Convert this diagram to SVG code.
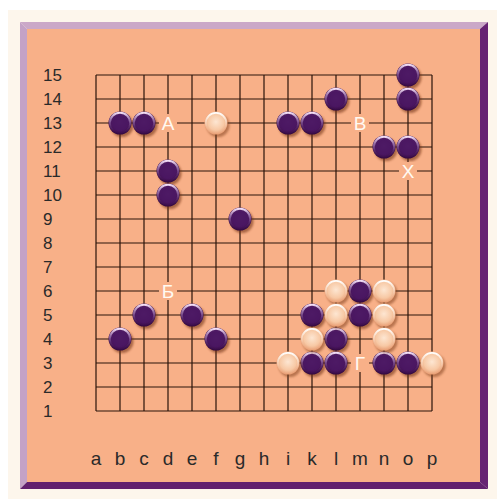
<svg xmlns="http://www.w3.org/2000/svg" xmlns:xlink="http://www.w3.org/1999/xlink" width="497" height="499" viewBox="0 0 497 499">
<style>
.grid line{stroke:#2b140a;stroke-width:1.2}
.rowlab{font-family:"Liberation Sans",Arial,sans-serif;font-size:17px;fill:#2a2a2a}
.collab{font-family:"Liberation Sans",Arial,sans-serif;font-size:19px;fill:#2a2a2a;text-anchor:middle}
.mark{font-family:"Liberation Sans",Arial,sans-serif;font-size:19px;fill:#fffaf2;text-anchor:middle}
</style>
<defs>
<filter id="blur" x="-50%" y="-50%" width="200%" height="200%"><feGaussianBlur stdDeviation="1.3"/></filter>
<radialGradient id="bg" cx="50%" cy="45%" r="55%"><stop offset="0" stop-color="#5e2a74"/><stop offset="0.7" stop-color="#4a1660"/><stop offset="1" stop-color="#33083f"/></radialGradient>
<linearGradient id="brim" x1="0" y1="0" x2="0" y2="1"><stop offset="0" stop-color="#f2def5"/><stop offset="0.45" stop-color="#a87fb8" stop-opacity="0.6"/><stop offset="1" stop-color="#5a2670" stop-opacity="0"/></linearGradient>
<radialGradient id="wg" cx="50%" cy="45%" r="55%"><stop offset="0" stop-color="#fde6d2"/><stop offset="0.65" stop-color="#f7c8a4"/><stop offset="1" stop-color="#e89c72"/></radialGradient>
<linearGradient id="wrim" x1="0" y1="0" x2="0" y2="1"><stop offset="0" stop-color="#ffffff"/><stop offset="0.5" stop-color="#fff2e6" stop-opacity="0.4"/><stop offset="1" stop-color="#f0b08a" stop-opacity="0"/></linearGradient>
<g id="bs">
<circle cx="2" cy="2.5" r="11.5" fill="#6a2a10" opacity="0.55" filter="url(#blur)"/>
<circle r="11.5" fill="url(#bg)"/>
<circle r="10.2" fill="none" stroke="url(#brim)" stroke-width="1.9"/>
<circle r="7.6" fill="#4a1662" opacity="0.8"/>
</g>
<g id="ws">
<circle cx="2" cy="2.5" r="11.5" fill="#7a3a18" opacity="0.5" filter="url(#blur)"/>
<circle r="11.5" fill="url(#wg)"/>
<circle r="10.2" fill="none" stroke="url(#wrim)" stroke-width="1.8"/>
</g>
</defs>
<rect width="497" height="499" fill="#ffffff"/>
<rect x="8" y="10" width="489" height="489" fill="#fdf6ec"/>
<g id="frame">
<polygon points="20,22 488,22 480,29 27,29" fill="#cba8c8"/>
<polygon points="20,22 27,29 27,482 20,489" fill="#c4a2c6"/>
<polygon points="488,22 488,489 480,482 480,29" fill="#672373"/>
<polygon points="20,489 488,489 480,482 27,482" fill="#62206e"/>
<rect x="27" y="29" width="453" height="453" fill="#f8b088"/>
</g>
<g class="grid" id="grid">
<line x1="96" y1="75" x2="432" y2="75"/><line x1="96" y1="99" x2="432" y2="99"/><line x1="96" y1="123" x2="432" y2="123"/><line x1="96" y1="147" x2="432" y2="147"/><line x1="96" y1="171" x2="432" y2="171"/><line x1="96" y1="195" x2="432" y2="195"/><line x1="96" y1="219" x2="432" y2="219"/><line x1="96" y1="243" x2="432" y2="243"/><line x1="96" y1="267" x2="432" y2="267"/><line x1="96" y1="291" x2="432" y2="291"/><line x1="96" y1="315" x2="432" y2="315"/><line x1="96" y1="339" x2="432" y2="339"/><line x1="96" y1="363" x2="432" y2="363"/><line x1="96" y1="387" x2="432" y2="387"/><line x1="96" y1="411" x2="432" y2="411"/>
<line x1="96" y1="75" x2="96" y2="411"/><line x1="120" y1="75" x2="120" y2="411"/><line x1="144" y1="75" x2="144" y2="411"/><line x1="168" y1="75" x2="168" y2="411"/><line x1="192" y1="75" x2="192" y2="411"/><line x1="216" y1="75" x2="216" y2="411"/><line x1="240" y1="75" x2="240" y2="411"/><line x1="264" y1="75" x2="264" y2="411"/><line x1="288" y1="75" x2="288" y2="411"/><line x1="312" y1="75" x2="312" y2="411"/><line x1="336" y1="75" x2="336" y2="411"/><line x1="360" y1="75" x2="360" y2="411"/><line x1="384" y1="75" x2="384" y2="411"/><line x1="408" y1="75" x2="408" y2="411"/><line x1="432" y1="75" x2="432" y2="411"/>
</g>
<g id="row-labels" class="rowlab">
<text x="43" y="81">15</text><text x="43" y="105">14</text><text x="43" y="129">13</text><text x="43" y="153">12</text><text x="43" y="177">11</text><text x="43" y="201">10</text><text x="43" y="225">9</text><text x="43" y="249">8</text><text x="43" y="273">7</text><text x="43" y="297">6</text><text x="43" y="321">5</text><text x="43" y="345">4</text><text x="43" y="369">3</text><text x="43" y="393">2</text><text x="43" y="417">1</text>
</g>
<g id="col-labels" class="collab">
<text x="96" y="465">a</text><text x="120" y="465">b</text><text x="144" y="465">c</text><text x="168" y="465">d</text><text x="192" y="465">e</text><text x="216" y="465">f</text><text x="240" y="465">g</text><text x="264" y="465">h</text><text x="288" y="465">i</text><text x="312" y="465">k</text><text x="336" y="465">l</text><text x="360" y="465">m</text><text x="384" y="465">n</text><text x="408" y="465">o</text><text x="432" y="465">p</text>
</g>
<g id="black-stones">
<g id="b-b13"><use xlink:href="#bs" x="120" y="123"/></g>
<g id="b-c13"><use xlink:href="#bs" x="144" y="123"/></g>
<g id="b-d11"><use xlink:href="#bs" x="168" y="171"/></g>
<g id="b-d10"><use xlink:href="#bs" x="168" y="195"/></g>
<g id="b-g9"><use xlink:href="#bs" x="240" y="219"/></g>
<g id="b-i13"><use xlink:href="#bs" x="288" y="123"/></g>
<g id="b-k13"><use xlink:href="#bs" x="312" y="123"/></g>
<g id="b-l14"><use xlink:href="#bs" x="336" y="99"/></g>
<g id="b-o15"><use xlink:href="#bs" x="408" y="75"/></g>
<g id="b-o14"><use xlink:href="#bs" x="408" y="99"/></g>
<g id="b-n12"><use xlink:href="#bs" x="384" y="147"/></g>
<g id="b-o12"><use xlink:href="#bs" x="408" y="147"/></g>
<g id="b-c5"><use xlink:href="#bs" x="144" y="315"/></g>
<g id="b-b4"><use xlink:href="#bs" x="120" y="339"/></g>
<g id="b-e5"><use xlink:href="#bs" x="192" y="315"/></g>
<g id="b-f4"><use xlink:href="#bs" x="216" y="339"/></g>
<g id="b-m6"><use xlink:href="#bs" x="360" y="291"/></g>
<g id="b-k5"><use xlink:href="#bs" x="312" y="315"/></g>
<g id="b-m5"><use xlink:href="#bs" x="360" y="315"/></g>
<g id="b-l4"><use xlink:href="#bs" x="336" y="339"/></g>
<g id="b-k3"><use xlink:href="#bs" x="312" y="363"/></g>
<g id="b-l3"><use xlink:href="#bs" x="336" y="363"/></g>
<g id="b-n3"><use xlink:href="#bs" x="384" y="363"/></g>
<g id="b-o3"><use xlink:href="#bs" x="408" y="363"/></g>
</g>
<g id="white-stones">
<g id="w-f13"><use xlink:href="#ws" x="216" y="123"/></g>
<g id="w-l6"><use xlink:href="#ws" x="336" y="291"/></g>
<g id="w-n6"><use xlink:href="#ws" x="384" y="291"/></g>
<g id="w-l5"><use xlink:href="#ws" x="336" y="315"/></g>
<g id="w-n5"><use xlink:href="#ws" x="384" y="315"/></g>
<g id="w-k4"><use xlink:href="#ws" x="312" y="339"/></g>
<g id="w-n4"><use xlink:href="#ws" x="384" y="339"/></g>
<g id="w-i3"><use xlink:href="#ws" x="288" y="363"/></g>
<g id="w-p3"><use xlink:href="#ws" x="432" y="363"/></g>
</g>
<g id="marks" class="mark">
<g id="m-A"><rect x="159" y="114" width="18" height="18" fill="#f8b088"/><text x="168" y="130">А</text></g>
<g id="m-V"><rect x="351" y="114" width="18" height="18" fill="#f8b088"/><text x="360" y="130">В</text></g>
<g id="m-X"><rect x="399" y="162" width="18" height="18" fill="#f8b088"/><text x="408" y="178">Х</text></g>
<g id="m-B"><rect x="159" y="282" width="18" height="18" fill="#f8b088"/><text x="168" y="298">Б</text></g>
<g id="m-G"><rect x="351" y="354" width="18" height="18" fill="#f8b088"/><text x="360" y="370">Г</text></g>
</g>
</svg>
